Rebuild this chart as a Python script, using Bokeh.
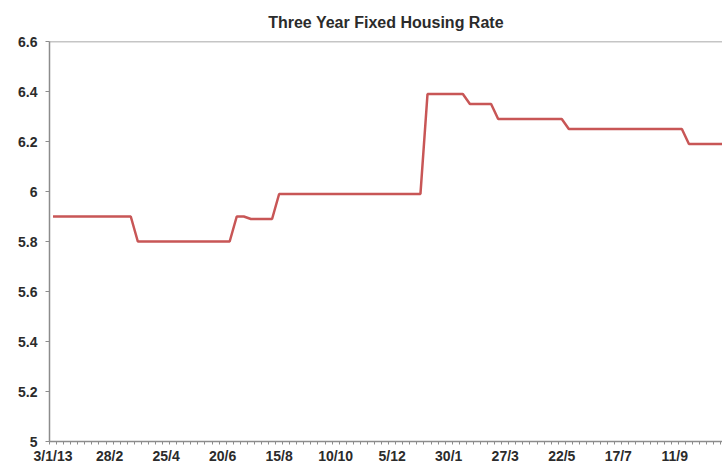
from bokeh.plotting import figure
from bokeh.models import Range1d, FixedTicker, Span, Title
from bokeh.embed import file_html
from bokeh.resources import INLINE

# Weekly three-year fixed housing rate, starting 3 Jan 2013
week_index = list(range(96))
rates = [
    5.90, 5.90, 5.90, 5.90, 5.90, 5.90, 5.90, 5.90, 5.90, 5.90, 5.90, 5.90,
    5.80, 5.80, 5.80, 5.80, 5.80, 5.80, 5.80, 5.80, 5.80, 5.80, 5.80, 5.80, 5.80, 5.80,
    5.90, 5.90,
    5.89, 5.89, 5.89, 5.89,
    5.99, 5.99, 5.99, 5.99, 5.99, 5.99, 5.99, 5.99, 5.99, 5.99, 5.99,
    5.99, 5.99, 5.99, 5.99, 5.99, 5.99, 5.99, 5.99, 5.99, 5.99,
    6.39, 6.39, 6.39, 6.39, 6.39, 6.39,
    6.35, 6.35, 6.35, 6.35,
    6.29, 6.29, 6.29, 6.29, 6.29, 6.29, 6.29, 6.29, 6.29, 6.29,
    6.25, 6.25, 6.25, 6.25, 6.25, 6.25, 6.25, 6.25, 6.25, 6.25, 6.25, 6.25, 6.25, 6.25, 6.25, 6.25, 6.25,
    6.19, 6.19, 6.19, 6.19, 6.19, 6.19,
]
tick_positions = [0, 8, 16, 24, 32, 40, 48, 56, 64, 72, 80, 88]
tick_labels = ["3/1/13", "28/2", "25/4", "20/6", "15/8", "10/10",
               "5/12", "30/1", "27/3", "22/5", "17/7", "11/9"]
y_ticks = [5.0, 5.2, 5.4, 5.6, 5.8, 6.0, 6.2, 6.4, 6.6]
y_labels = ["5", "5.2", "5.4", "5.6", "5.8", "6", "6.2", "6.4", "6.6"]

FONT = "Liberation Sans"
TXT = "#2b2b2b"
AX = "#8c8c8c"

p = figure(width=722, height=466, output_backend="svg", toolbar_location=None,
           x_range=Range1d(-0.5, 94.75), y_range=Range1d(5.0, 6.6),
           min_border_left=49, min_border_right=0, min_border_bottom=22, min_border_top=41)
p.title = Title(text="Three Year Fixed Housing Rate", align="center",
                text_font=FONT, text_font_size="16px", text_font_style="bold",
                text_color=TXT, standoff=21)
p.outline_line_color = None
p.xgrid.visible = False
p.ygrid.visible = False

p.line(week_index, rates, line_color="#C85656", line_width=2.5)

p.add_layout(Span(location=6.6, dimension="width", line_color=AX, line_width=1.5))

xa = p.xaxis[0]
xa.ticker = FixedTicker(ticks=tick_positions,
                        minor_ticks=[i - 0.5 for i in range(0, 97)])
xa.major_label_overrides = {t: l for t, l in zip(tick_positions, tick_labels)}
xa.major_tick_line_color = None
xa.major_tick_in = 0
xa.major_tick_out = 3
xa.minor_tick_in = 0
xa.minor_tick_out = 3
xa.minor_tick_line_color = AX
xa.axis_line_color = AX
xa.axis_line_width = 1.5
xa.major_label_text_font = FONT
xa.major_label_text_font_size = "14px"
xa.major_label_text_font_style = "bold"
xa.major_label_text_color = TXT
xa.major_label_standoff = 3

ya = p.yaxis[0]
ya.ticker = FixedTicker(ticks=y_ticks, minor_ticks=[])
ya.major_label_overrides = {t: l for t, l in zip(y_ticks, y_labels)}
ya.major_tick_in = 0
ya.major_tick_out = 4
ya.major_tick_line_color = AX
ya.axis_line_color = AX
ya.axis_line_width = 1.5
ya.major_label_text_font = FONT
ya.major_label_text_font_size = "14px"
ya.major_label_text_font_style = "bold"
ya.major_label_text_color = TXT
ya.major_label_standoff = 8

open("out.html", "w").write(file_html(p, INLINE))
